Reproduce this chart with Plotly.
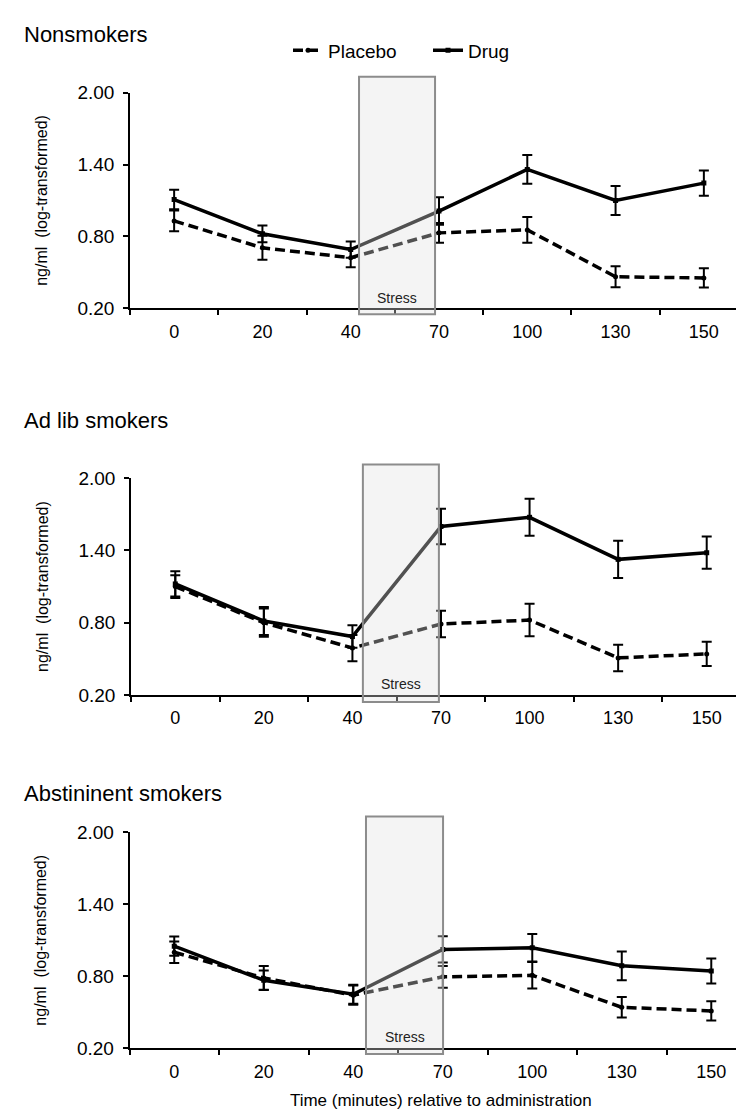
import plotly.graph_objects as go

times = ["0", "20", "40", "70", "100", "130", "150"]
panel_titles = ["Nonsmokers", "Ad lib smokers", "Abstininent smokers"]

# Nonsmokers
non_placebo = [0.93, 0.705, 0.623, 0.83, 0.855, 0.464, 0.454]
non_placebo_err = [0.086, 0.10, 0.079, 0.082, 0.107, 0.087, 0.08]
non_drug = [1.108, 0.822, 0.691, 1.012, 1.359, 1.10, 1.245]
non_drug_err = [0.082, 0.07, 0.068, 0.115, 0.12, 0.12, 0.105]

# Ad lib smokers
adl_placebo = [1.10, 0.80, 0.59, 0.789, 0.822, 0.508, 0.541]
adl_placebo_err = [0.095, 0.117, 0.109, 0.11, 0.135, 0.11, 0.10]
adl_drug = [1.122, 0.814, 0.685, 1.599, 1.675, 1.326, 1.381]
adl_drug_err = [0.105, 0.117, 0.093, 0.147, 0.154, 0.154, 0.134]

# Abstinent smokers
abs_placebo = [1.00, 0.786, 0.642, 0.795, 0.808, 0.541, 0.511]
abs_placebo_err = [0.09, 0.10, 0.08, 0.09, 0.11, 0.085, 0.08]
abs_drug = [1.051, 0.767, 0.65, 1.024, 1.037, 0.887, 0.844]
abs_drug_err = [0.08, 0.08, 0.08, 0.11, 0.115, 0.12, 0.105]

y_ticks = [0.20, 0.80, 1.40, 2.00]

panels = [
    (non_placebo, non_placebo_err, non_drug, non_drug_err),
    (adl_placebo, adl_placebo_err, adl_drug, adl_drug_err),
    (abs_placebo, abs_placebo_err, abs_drug, abs_drug_err),
]

W, H = 744, 1114
FONT = "Liberation Sans, Arial, Helvetica, sans-serif"

# layout geometry in pixels (left, right, top, bottom of plot area)
geo = [
    dict(l=122, r=740, t=76, b=296, rng=6.5, box=(0.3706, 0.4936), bt=1.073, bb=-0.027, title_y=17),
    dict(l=123, r=743, t=469, b=690, rng=6.5, box=(0.374, 0.4966), bt=1.063, bb=-0.032, title_y=410),
    dict(l=121.5, r=744, t=830, b=1050, rng=6.455, box=(0.3799, 0.5037), bt=1.073, bb=-0.027, title_y=790),
]

fig = go.Figure()

for i, (pl, ple, dr, dre) in enumerate(panels):
    xa = "x" if i == 0 else f"x{i+1}"
    ya = "y" if i == 0 else f"y{i+1}"
    fig.add_trace(go.Scatter(
        x=times, y=pl, name="Placebo", mode="lines+markers",
        line=dict(color="black", width=3.5, dash="10px,5px"),
        marker=dict(color="black", size=5, symbol="circle"),
        error_y=dict(type="data", array=ple, color="black", thickness=2, width=5),
        xaxis=xa, yaxis=ya, showlegend=(i == 0), legendrank=1,
    ))
    fig.add_trace(go.Scatter(
        x=times, y=dr, name="Drug", mode="lines+markers",
        line=dict(color="black", width=3.5),
        marker=dict(color="black", size=5, symbol="square"),
        error_y=dict(type="data", array=dre, color="black", thickness=2, width=5),
        xaxis=xa, yaxis=ya, showlegend=(i == 0), legendrank=2,
    ))

layout = dict(
    width=W, height=H,
    margin=dict(l=0, r=0, t=0, b=0),
    paper_bgcolor="white", plot_bgcolor="white",
    font=dict(family=FONT, color="black", size=17),
    showlegend=True,
    legend=dict(orientation="h", x=280 / W, xanchor="left", y=1 - 33 / H, yanchor="middle",
                font=dict(size=19, family=FONT), bgcolor="rgba(0,0,0,0)",
                traceorder="normal", itemwidth=30, entrywidth=95),
)

shapes = []
annotations = []
for i, g in enumerate(geo):
    sfx = "" if i == 0 else str(i + 1)
    layout[f"xaxis{sfx}"] = dict(
        domain=[g["l"] / W, min(g["r"] / W, 1.0)],
        anchor=f"y{sfx}", type="category", categoryorder="array", categoryarray=times,
        range=[-0.5, g["rng"]],
        showline=True, linecolor="black", linewidth=1.5,
        ticks="outside", ticklen=5, tickwidth=1.5, tickcolor="black",
        tickson="boundaries", showgrid=False, zeroline=False,
        tickfont=dict(size=18, family=FONT), ticklabelstandoff=6,
        title=dict(text="Time (minutes) relative to administration" if i == 2 else "",
                   font=dict(size=17, family=FONT), standoff=14),
    )
    layout[f"yaxis{sfx}"] = dict(
        domain=[1 - g["b"] / H, 1 - g["t"] / H],
        anchor=f"x{sfx}", range=[0.2, 2.0],
        tickvals=y_ticks, tickformat=".2f",
        showline=True, linecolor="black", linewidth=1.5,
        ticks="outside", ticklen=5, tickwidth=1.5, tickcolor="black",
        showgrid=False, zeroline=False,
        tickfont=dict(size=19, family=FONT), ticklabelstandoff=5,
        title=dict(text="ng/ml  (log-transformed)", font=dict(size=16, family=FONT), standoff=26),
    )
    shapes.append(dict(
        type="rect", xref=f"x{sfx} domain", yref=f"y{sfx} domain",
        x0=g["box"][0], x1=g["box"][1], y0=g["bb"], y1=g["bt"],
        fillcolor="rgba(224,224,224,0.36)", line=dict(color="#8c8c8c", width=2),
        layer="above",
    ))
    annotations.append(dict(
        text="Stress", xref=f"x{sfx} domain", yref=f"y{sfx} domain",
        x=(g["box"][0] + g["box"][1]) / 2, y=0.05, showarrow=False,
        font=dict(size=14, family=FONT, color="#222"), xanchor="center", yanchor="middle",
    ))
    annotations.append(dict(
        text=panel_titles[i], xref="paper", yref="paper",
        x=14 / W, y=1 - g["title_y"] / H, showarrow=False,
        font=dict(size=22, family=FONT), xanchor="left", yanchor="middle",
    ))

layout["shapes"] = shapes
layout["annotations"] = annotations
fig.update_layout(**layout)

fig.write_html("out.html")
